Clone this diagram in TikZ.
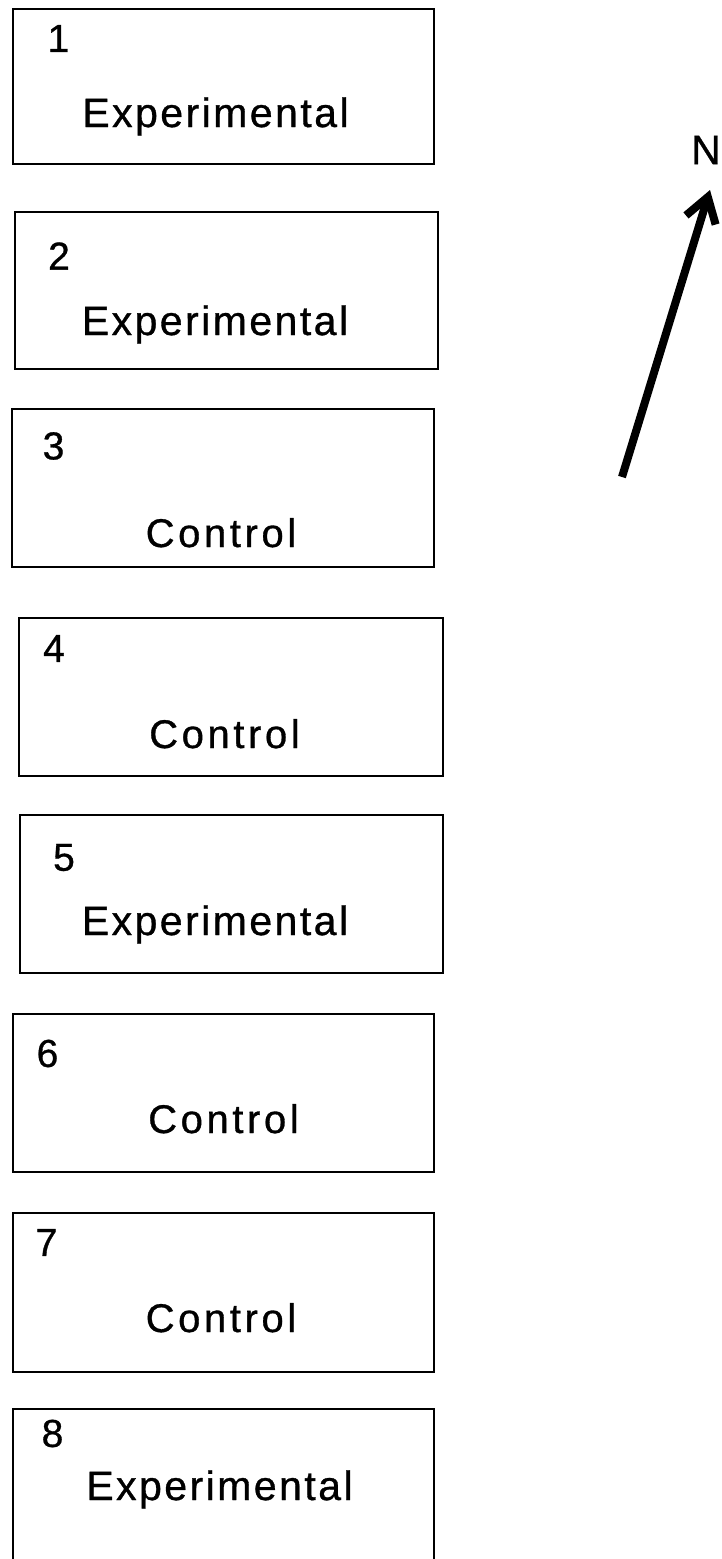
\documentclass[tikz,border=0pt]{standalone}
\usepackage{fontspec}
\setmainfont{Liberation Sans}
\newfontfamily\numfont[FakeBold=0.8]{Liberation Sans}
\newfontfamily\expfont[LetterSpace=6,FakeBold=0.8]{Liberation Sans}
\newfontfamily\ctlfont[LetterSpace=9,FakeBold=0.8]{Liberation Sans}
\usetikzlibrary{arrows.meta}

\tikzset{
  plot/.style={draw=black, line width=2pt, rectangle, inner sep=0pt,
    anchor=north west},
  plotno/.style={inner sep=0pt, anchor=center,
    font=\numfont\fontsize{39}{47}\selectfont},
  exptext/.style={inner sep=0pt, anchor=base,
    font=\expfont\fontsize{41}{49}\selectfont},
  ctltext/.style={inner sep=0pt, anchor=base,
    font=\ctlfont\fontsize{40}{48}\selectfont},
  northarrow/.style={line width=8pt,
    -{Straight Barb[length=24pt,width=31pt]}},
}

\begin{document}
\begin{tikzpicture}[x=1pt, y=-1pt]
  \useasboundingbox (0,0) rectangle (722,1559);
  \clip (0,0) rectangle (722,1559);

  % field plots, top to bottom
  \node[plot, minimum width=421pt, minimum height=155pt] (b1) at (12,8) {};
  \node[plot, minimum width=423pt, minimum height=157pt] (b2) at (14,211) {};
  \node[plot, minimum width=422pt, minimum height=158pt] (b3) at (11,408) {};
  \node[plot, minimum width=424pt, minimum height=158pt] (b4) at (18,617) {};
  \node[plot, minimum width=423pt, minimum height=158pt] (b5) at (19,814) {};
  \node[plot, minimum width=421pt, minimum height=158pt] (b6) at (12,1013) {};
  \node[plot, minimum width=421pt, minimum height=159pt] (b7) at (12,1212) {};
  \node[plot, minimum width=421pt, minimum height=170pt] (b8) at (12,1408) {};

  % plot numbers
  \node[plotno] (n1) at (58.5,38.5) {1};
  \node[plotno] (n2) at (59,256) {2};
  \node[plotno] (n3) at (53.5,446) {3};
  \node[plotno] (n4) at (54,648.5) {4};
  \node[plotno] (n5) at (64,857.5) {5};
  \node[plotno] (n6) at (47.5,1053.5) {6};
  \node[plotno] (n7) at (46.5,1242.5) {7};
  \node[plotno] (n8) at (52.5,1433.5) {8};

  % treatments
  \node[exptext] (t1) at (215.5,127) {Experimental};
  \node[exptext] (t2) at (215,335) {Experimental};
  \node[ctltext] (t3) at (221,547) {Control};
  \node[ctltext] (t4) at (224.5,748) {Control};
  \node[exptext] (t5) at (215,935) {Experimental};
  \node[ctltext] (t6) at (223.5,1133) {Control};
  \node[ctltext] (t7) at (221,1332) {Control};
  \node[exptext] (t8) at (219.5,1500) {Experimental};

  % north arrow
  \node[plotno, font=\numfont\fontsize{41}{49}\selectfont] (north) at (706,150) {N};
  \coordinate (tail) at (622,477);
  \coordinate (tip) at (710,190);
  \draw[northarrow] (tail) -- (tip);
\end{tikzpicture}
\end{document}
